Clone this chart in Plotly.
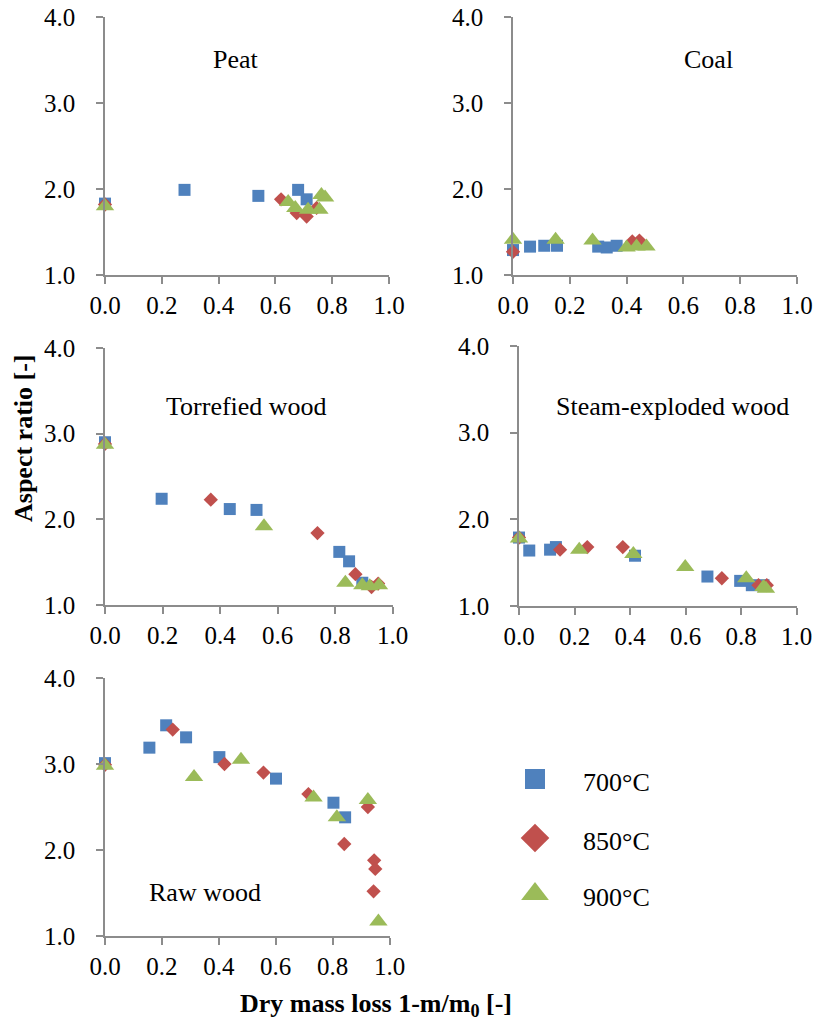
import plotly.graph_objects as go

W, H = 818, 1034

# ---- data: dry mass loss (x) and aspect ratio (y) per fuel and temperature ----
peat_x_700 = [0.0, 0.28, 0.54, 0.68, 0.71]
peat_y_700 = [1.83, 1.99, 1.92, 1.99, 1.88]
peat_x_850 = [0.0, 0.62, 0.675, 0.71, 0.745]
peat_y_850 = [1.82, 1.88, 1.72, 1.68, 1.78]
peat_x_900 = [0.0, 0.645, 0.67, 0.715, 0.755, 0.762, 0.775]
peat_y_900 = [1.80, 1.85, 1.78, 1.76, 1.76, 1.93, 1.90]

coal_x_700 = [0.0, 0.06, 0.11, 0.155, 0.30, 0.33, 0.365]
coal_y_700 = [1.29, 1.33, 1.34, 1.34, 1.33, 1.32, 1.34]
coal_x_850 = [0.0, 0.42, 0.445]
coal_y_850 = [1.27, 1.39, 1.40]
coal_x_900 = [0.0, 0.15, 0.28, 0.40, 0.435, 0.47]
coal_y_900 = [1.41, 1.41, 1.40, 1.32, 1.33, 1.33]

torr_x_700 = [0.0, 0.197, 0.434, 0.527, 0.815, 0.849, 0.895]
torr_y_700 = [2.90, 2.24, 2.12, 2.11, 1.62, 1.51, 1.26]
torr_x_850 = [0.0, 0.368, 0.739, 0.871, 0.927, 0.95]
torr_y_850 = [2.88, 2.23, 1.84, 1.36, 1.21, 1.25]
torr_x_900 = [0.0, 0.553, 0.836, 0.895, 0.921, 0.953]
torr_y_900 = [2.87, 1.92, 1.26, 1.23, 1.22, 1.23]

steam_x_700 = [0.0, 0.037, 0.112, 0.133, 0.418, 0.679, 0.797, 0.839, 0.881]
steam_y_700 = [1.79, 1.64, 1.65, 1.68, 1.58, 1.34, 1.29, 1.24, 1.24]
steam_x_850 = [0.0, 0.148, 0.246, 0.374, 0.731, 0.863, 0.893]
steam_y_850 = [1.79, 1.65, 1.68, 1.68, 1.32, 1.24, 1.24]
steam_x_900 = [0.0, 0.217, 0.412, 0.599, 0.819, 0.881, 0.89]
steam_y_900 = [1.78, 1.65, 1.60, 1.45, 1.32, 1.22, 1.20]

raw_x_700 = [0.0, 0.156, 0.215, 0.285, 0.402, 0.601, 0.803, 0.844]
raw_y_700 = [3.01, 3.19, 3.45, 3.31, 3.08, 2.83, 2.55, 2.38]
raw_x_850 = [0.0, 0.238, 0.42, 0.557, 0.715, 0.841, 0.924, 0.946, 0.95, 0.944]
raw_y_850 = [2.99, 3.40, 3.00, 2.90, 2.65, 2.07, 2.50, 1.88, 1.78, 1.52]
raw_x_900 = [0.0, 0.313, 0.478, 0.733, 0.815, 0.924, 0.961]
raw_y_900 = [2.98, 2.85, 3.05, 2.61, 2.38, 2.58, 1.17]

temperatures = ["700°C", "850°C", "900°C"]
panel_names = ["Peat", "Coal", "Torrefied wood", "Steam-exploded wood", "Raw wood"]
x_ticks = [0.0, 0.2, 0.4, 0.6, 0.8, 1.0]
y_ticks = [1.0, 2.0, 3.0, 4.0]

panels = [
    (peat_x_700, peat_y_700, peat_x_850, peat_y_850, peat_x_900, peat_y_900),
    (coal_x_700, coal_y_700, coal_x_850, coal_y_850, coal_x_900, coal_y_900),
    (torr_x_700, torr_y_700, torr_x_850, torr_y_850, torr_x_900, torr_y_900),
    (steam_x_700, steam_y_700, steam_x_850, steam_y_850, steam_x_900, steam_y_900),
    (raw_x_700, raw_y_700, raw_x_850, raw_y_850, raw_x_900, raw_y_900),
]

# ---- styling ----
COLORS = ["#4F81BD", "#C0504D", "#9BBB59"]
SYMBOLS = ["square", "diamond", "triangle-up"]
SIZES = [12, 11, 16]
LEGEND_SIZES = [20, 22, 24]
AXIS_COLOR = "#8c8c8c"
SERIF = "Liberation Serif, Times New Roman, serif"
FONT_SIZE = 26
TICK_SIZE = 25

# plot-area boxes in pixels: (left, right, bottom, top)
boxes = [
    (105, 389, 275, 17),
    (513, 797, 275, 17),
    (105, 392.5, 605, 348),
    (519, 796.5, 606, 346),
    (105, 389.5, 936, 678),
]
# panel title positions in pixels (centre x, centre y)
title_pos = [(236, 60), (708, 60), (247, 406), (672, 406), (205, 892)]


def px_x(p):
    return p / W


def px_y(p):
    return 1 - p / H


fig = go.Figure()
layout = {}
annotations = []

for i, (data, box) in enumerate(zip(panels, boxes)):
    n = "" if i == 0 else str(i + 1)
    left, right, bottom, top = box
    axis_common = dict(
        showline=True, linecolor=AXIS_COLOR, linewidth=1.5,
        ticks="outside", ticklen=7, tickwidth=1.5, tickcolor=AXIS_COLOR,
        showgrid=False, zeroline=False, automargin=False,
        tickfont=dict(family=SERIF, size=TICK_SIZE, color="black"),
        tickformat=".1f", fixedrange=True,
    )
    layout["xaxis" + n] = dict(
        domain=[px_x(left), px_x(right)], range=[0, 1], tickvals=x_ticks,
        anchor="y" + n, ticklabelstandoff=0, **axis_common,
    )
    layout["yaxis" + n] = dict(
        domain=[px_y(bottom), px_y(top)], range=[1, 4], tickvals=y_ticks,
        anchor="x" + n, ticklabelstandoff=16, **axis_common,
    )
    for k in range(3):
        fig.add_trace(go.Scatter(
            x=data[2 * k], y=data[2 * k + 1], mode="markers",
            xaxis="x" + n, yaxis="y" + n, cliponaxis=False, showlegend=False,
            marker=dict(symbol=SYMBOLS[k], size=SIZES[k], color=COLORS[k],
                        line=dict(width=0)),
            name=temperatures[k],
        ))
    tx, ty = title_pos[i]
    annotations.append(dict(
        text=panel_names[i], x=px_x(tx), y=px_y(ty), xref="paper", yref="paper",
        showarrow=False, xanchor="center", yanchor="middle",
        font=dict(family=SERIF, size=FONT_SIZE, color="black"),
    ))

# legend drawn on a hidden axis in the empty sixth cell (pixel units, y downwards)
legend_box = (500, 700, 930, 740)
layout["xaxis6"] = dict(domain=[px_x(legend_box[0]), px_x(legend_box[1])],
                        range=[legend_box[0], legend_box[1]], visible=False,
                        anchor="y6", fixedrange=True, automargin=False)
layout["yaxis6"] = dict(domain=[px_y(legend_box[2]), px_y(legend_box[3])],
                        range=[legend_box[2], legend_box[3]], visible=False,
                        anchor="x6", fixedrange=True, automargin=False)
legend_rows = [779, 838, 894]
for k in range(3):
    fig.add_trace(go.Scatter(
        x=[535], y=[legend_rows[k]], mode="markers", xaxis="x6", yaxis="y6",
        cliponaxis=False, showlegend=False, name=temperatures[k],
        marker=dict(symbol=SYMBOLS[k], size=LEGEND_SIZES[k], color=COLORS[k],
                    line=dict(width=0)),
    ))
    annotations.append(dict(
        text=temperatures[k], x=px_x(581), y=px_y(legend_rows[k] + 3),
        xref="paper", yref="paper", showarrow=False,
        xanchor="left", yanchor="middle",
        font=dict(family=SERIF, size=FONT_SIZE, color="black"),
    ))

# shared axis titles
annotations.append(dict(
    text="<b>Aspect ratio [-]</b>", x=px_x(23), y=px_y(438),
    xref="paper", yref="paper", showarrow=False, textangle=-90,
    xanchor="center", yanchor="middle",
    font=dict(family=SERIF, size=FONT_SIZE, color="black"),
))
annotations.append(dict(
    text="<b>Dry mass loss 1-m/m<sub>0</sub> [-]</b>", x=px_x(376), y=px_y(1005),
    xref="paper", yref="paper", showarrow=False,
    xanchor="center", yanchor="middle",
    font=dict(family=SERIF, size=FONT_SIZE, color="black"),
))

fig.update_layout(
    width=W, height=H,
    margin=dict(l=0, r=0, t=0, b=0, pad=0, autoexpand=False),
    paper_bgcolor="white", plot_bgcolor="white",
    showlegend=False, annotations=annotations, **layout,
)

fig.write_html("out.html", config={"displayModeBar": False})
